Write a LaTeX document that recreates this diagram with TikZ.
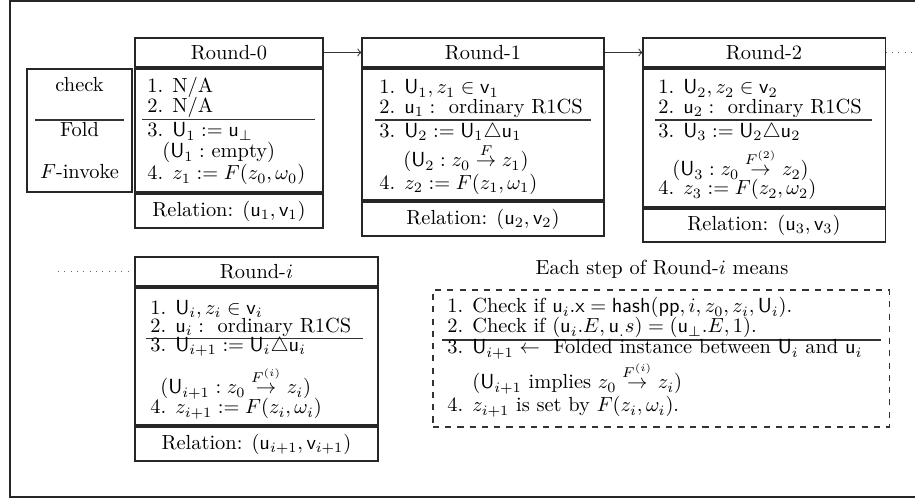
\documentclass[tikz,border=0pt]{standalone}
\usepackage{amsmath,amssymb}
\begin{document}
\begin{tikzpicture}[x=0.49pt,y=-0.49pt,
  bx/.style 2 args={draw=black!85, line width=0.5pt, minimum width=#1*0.49pt, minimum height=#2*0.49pt, inner sep=0pt},
  ln/.style={anchor=base west, inner sep=0pt},
  lc/.style={anchor=base, inner sep=0pt},
  rl/.style={draw=black!80, line width=0.5pt},
  conn/.style={draw=black!80, line width=0.5pt, ->},
  dots/.style={draw=black!60, line width=0.5pt, dash pattern=on 0.5pt off 2.6pt}]
\useasboundingbox (0,0) rectangle (915,502);
\clip (0,0) rectangle (915,502);
% outer frame
\draw[black!85, line width=0.7pt] (10,1) rectangle (1000,497);

% ---------------- Round-0 ----------------
\node[bx={188}{29}] (t0) at (229,52.5) {Round-0};
\node[bx={105}{123}] (lab) at (79.5,130.5) {};
\node[bx={188}{123}] (c0) at (229,130.5) {};
\node[bx={188}{34}] (r0) at (229,211) {Relation: $(\mathsf{u}_1,\mathsf{v}_1)$};
\node[lc] (lcheck) at (79.5,92) {check};
\draw[rl] (35,120) -- (124,120);
\node[lc] (lfold) at (79.5,137) {Fold};
\node[lc] (linv) at (79.5,179) {$F$-invoke};
\node[ln] (a1) at (147,93) {1. N/A};
\node[ln] (a2) at (147,113) {2. N/A};
\draw[rl] (142,119.5) -- (315,119.5);
\node[ln] (a3) at (147,137) {3. $\mathsf{U}_1 := \mathsf{u}_\perp$};
\node[ln] (a4) at (162,158) {($\mathsf{U}_1 :$ empty)};
\node[ln] (a5) at (147,180) {4. $z_1 := F(z_0,\omega_0)$};

% ---------------- Round-1 ----------------
\node[bx={242}{29}] (t1) at (483,52.5) {Round-1};
\node[bx={242}{131}] (c1) at (483,134.5) {};
\node[bx={242}{34}] (r1) at (483,219) {Relation: $(\mathsf{u}_2,\mathsf{v}_2)$};
\node[ln] (b1) at (379,94) {1. $\mathsf{U}_1, z_1 \in \mathsf{v}_1$};
\node[ln] (b2) at (379,113.5) {2. $\mathsf{u}_1 :$ \ ordinary R1CS};
\draw[rl] (375,120) -- (591,120);
\node[ln] (b3) at (379,137.5) {3. $\mathsf{U}_2 := \mathsf{U}_1 \triangle \mathsf{u}_1$};
\node[ln] (b4) at (403,167) {($\mathsf{U}_2 : z_0 \stackrel{F}{\to} z_1$)};
\node[ln] (b5) at (379,189.5) {4. $z_2 := F(z_1,\omega_1)$};

% ---------------- Round-2 ----------------
\node[bx={242}{29}] (t2) at (764,52.5) {Round-2};
\node[bx={242}{138}] (c2) at (764,138) {};
\node[bx={242}{33}] (r2) at (764,225.5) {Relation: $(\mathsf{u}_3,\mathsf{v}_3)$};
\node[ln] (d1) at (658,94) {1. $\mathsf{U}_2, z_2 \in \mathsf{v}_2$};
\node[ln] (d2) at (658,113.5) {2. $\mathsf{u}_2 :$ \ ordinary R1CS};
\draw[rl] (655,120) -- (872,120);
\node[ln] (d3) at (658,137.5) {3. $\mathsf{U}_3 := \mathsf{U}_2 \triangle \mathsf{u}_2$};
\node[ln] (d4) at (672,176) {($\mathsf{U}_3 : z_0 \stackrel{F^{(2)}}{\to} z_2$)};
\node[ln] (d5) at (658,195) {4. $z_3 := F(z_2,\omega_2)$};

% ---------------- Round-i ----------------
\node[bx={243}{29}] (ti) at (256.5,271.5) {Round-$i$};
\node[bx={243}{137}] (ci) at (256.5,356.5) {};
\node[bx={243}{34}] (ri) at (256.5,444) {Relation: $(\mathsf{u}_{i+1},\mathsf{v}_{i+1})$};
\node[ln] (e1) at (150,314.5) {1. $\mathsf{U}_i, z_i \in \mathsf{v}_i$};
\node[ln] (e2) at (150,332.5) {2. $\mathsf{u}_i :$ \ ordinary R1CS};
\draw[rl] (146,338.5) -- (363,338.5);
\node[ln] (e3) at (150,351.5) {3. $\mathsf{U}_{i+1} := \mathsf{U}_i \triangle \mathsf{u}_i$};
\node[ln] (e4) at (160,394) {($\mathsf{U}_{i+1} : z_0 \stackrel{F^{(i)}}{\to} z_i$)};
\node[ln] (e5) at (150,414) {4. $z_{i+1} := F(z_i,\omega_i)$};

% ---------------- legend ----------------
\node[lc] (hd) at (662,275) {Each step of Round-$i$ means};
\node[draw=black!80, line width=0.5pt, dashed, minimum width=456*0.49pt, minimum height=137*0.49pt, inner sep=0pt] (leg) at (661,358.5) {};
\node[ln] (f1) at (447,313) {1. Check if $\mathsf{u}_i.\mathsf{x} = \mathsf{hash}(\mathsf{pp}, i, z_0, z_i, \mathsf{U}_i)$.};
\node[ln] (f2) at (447,333) {2. Check if $(\mathsf{u}_i.E, \mathsf{u}_.s) = (\mathsf{u}_\perp.E, 1)$.};
\draw[rl] (442,340) -- (881,340);
\node[ln] (f3) at (447,354) {3. $\mathsf{U}_{i+1} \leftarrow$ \ Folded instance between $\mathsf{U}_i$ and $\mathsf{u}_i$};
\node[ln] (f4) at (472,389) {($\mathsf{U}_{i+1}$ implies $z_0 \stackrel{F^{(i)}}{\to} z_i$)};
\node[ln] (f5) at (447,412) {4. $z_{i+1}$ is set by $F(z_i,\omega_i)$.};

% ---------------- connectors ----------------
\coordinate (dR) at (930,52.5);
\coordinate (dL) at (58,271.5);
\draw[conn] (t0.east) -- (t1.west);
\draw[conn] (t1.east) -- (t2.west);
\draw[dots] (t2.east) -- (dR);
\draw[dots] (dL) -- ([xshift=-2.5pt]ti.west);
\end{tikzpicture}
\end{document}
